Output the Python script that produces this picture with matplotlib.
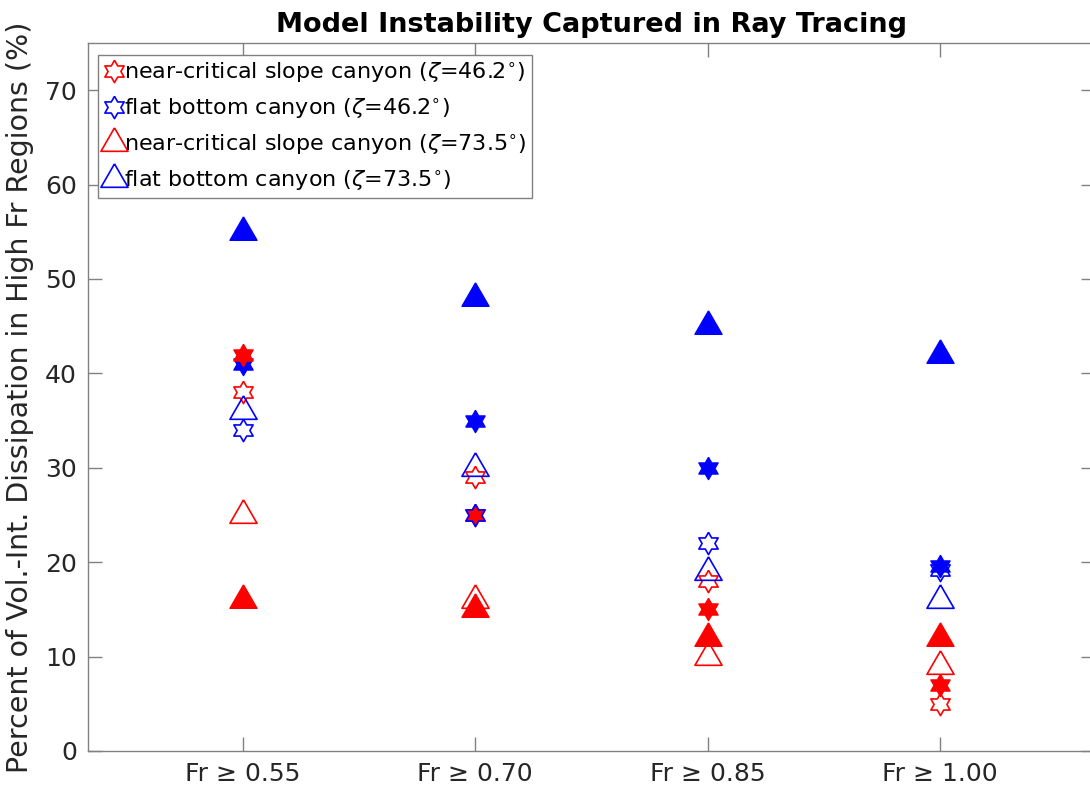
import numpy as np
import matplotlib
matplotlib.use('Agg')
import matplotlib.pyplot as plt

# Set plot text format
plt.rcParams['font.family'] = ['DejaVu Sans']
plt.rcParams['mathtext.fontset'] = 'dejavusans'

# Data
fr_labels = ['Fr ≥ 0.55', 'Fr ≥ 0.70', 'Fr ≥ 0.85', 'Fr ≥ 1.00']
x_pos = [1, 2, 3, 4]

# open markers (in legend)
crit_hex_open = [38, 29, 18, 5]
flat_hex_open = [34, 25, 22, 19.2]
crit_tri_open = [25, 16, 10, 9]
flat_tri_open = [36, 30, 19, 16]

# filled markers
crit_hex_fill = [42, 25, 15, 7]
flat_hex_fill = [41, 35, 30, 19.6]
crit_tri_fill = [16, 15, 12, 12]
flat_tri_fill = [55, 48, 45, 42]

legend_labels = [r'near-critical slope canyon ($\zeta$=46.2$^{\circ}$)',
                 r'flat bottom canyon ($\zeta$=46.2$^{\circ}$)',
                 r'near-critical slope canyon ($\zeta$=73.5$^{\circ}$)',
                 r'flat bottom canyon ($\zeta$=73.5$^{\circ}$)']

# MATLAB-like marker shapes (closed paths)
ang = np.pi / 2 + np.arange(13) * np.pi / 6
rad = np.where(np.arange(13) % 2 == 0, 1.0, 1 / np.sqrt(3))
hexagram = list(zip(rad * np.cos(ang), rad * np.sin(ang)))
triangle = [(0, 1.1547), (-1, -0.57735), (1, -0.57735), (0, 1.1547)]

hex_ms = 16
tri_ms = 22.5

fig = plt.figure(figsize=(10.9, 7.93), dpi=100)
ax = fig.add_axes([88 / 1090, 42 / 793, 1007 / 1090, 708 / 793])

# filled series first
ax.plot(x_pos, flat_tri_fill, ls='none', marker=triangle, ms=tri_ms, color='blue', mew=1)
ax.plot(x_pos, crit_tri_fill, ls='none', marker=triangle, ms=tri_ms, color='red', mew=1)
ax.plot(x_pos, flat_hex_fill, ls='none', marker=hexagram, ms=hex_ms, color='blue', mew=1)
ax.plot(x_pos, crit_hex_fill, ls='none', marker=hexagram, ms=hex_ms, color='red', mew=1)

# open series
h1, = ax.plot(x_pos, crit_hex_open, ls='none', marker=hexagram, ms=hex_ms, mfc='none', mec='red', mew=1.2)
h2, = ax.plot(x_pos, flat_hex_open, ls='none', marker=hexagram, ms=hex_ms, mfc='none', mec='blue', mew=1.2)
h3, = ax.plot(x_pos, crit_tri_open, ls='none', marker=triangle, ms=tri_ms, mfc='none', mec='red', mew=1.2)
h4, = ax.plot(x_pos, flat_tri_open, ls='none', marker=triangle, ms=tri_ms, mfc='none', mec='blue', mew=1.2)

ax.set_xlim(1 / 3, 14 / 3)
ax.set_ylim(0, 75)
ax.set_xticks(x_pos)
ax.set_xticklabels(fr_labels)
ax.set_yticks(np.arange(0, 71, 10))

for sp in ax.spines.values():
    sp.set_color('#808080')
    sp.set_linewidth(1)
ax.tick_params(direction='in', length=10, width=1, color='#808080',
               labelcolor='#262626', labelsize=18, top=True, right=True, pad=8)

ax.set_title('Model Instability Captured in Ray Tracing', fontsize=19.5,
             fontweight='bold', pad=8)
ax.set_ylabel('Percent of Vol.-Int. Dissipation in High Fr Regions (%)',
              fontsize=20.5, color='#262626', labelpad=8)

leg = ax.legend([h1, h2, h3, h4], legend_labels, loc='upper left',
                bbox_to_anchor=(0.0099, 0.983), borderaxespad=0, fontsize=16,
                handlelength=0.9, handletextpad=0.0, borderpad=0.25,
                labelspacing=0.5, fancybox=False, framealpha=1, numpoints=1)
leg.get_frame().set_edgecolor('#808080')
leg.get_frame().set_linewidth(1)

fig.savefig('out.png', dpi=100)
